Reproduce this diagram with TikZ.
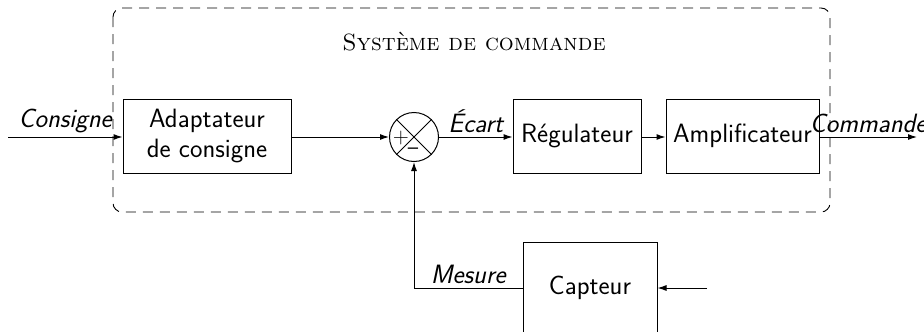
\documentclass[tikz,border=0pt]{standalone}
\usetikzlibrary{arrows.meta}
\begin{document}
\begin{tikzpicture}[x=1pt,y=-1pt,line width=1pt,
  blk/.style={draw,line width=1pt,font=\fontsize{26.5}{30}\selectfont\sffamily,align=center,inner sep=0pt},
  lbl/.style={font=\fontsize{26.5}{30}\selectfont\sffamily\itshape},
  sgn/.style={font=\fontsize{22}{26}\selectfont\sffamily,inner sep=0pt},
  arr/.style={-{Latex[length=9pt,width=6pt]}}]
\useasboundingbox (0,0) rectangle (924,332);
\draw[dash pattern=on 10pt off 7pt,rounded corners=9pt,line width=0.9pt] (113,8) rectangle (830,212);
\node[font=\fontsize{23.5}{28}\selectfont\rmfamily] (title) at (474,42) {\textsc{Système de commande}};
\node[blk,minimum width=168pt,minimum height=74pt] (adapt) at (207,136) {Adaptateur\\de consigne};
\node[draw,circle,minimum size=49pt,inner sep=0pt] (sum) at (414,137) {};
\draw (sum.45) -- (sum.225) (sum.135) -- (sum.315);
\node[sgn] (plus) at (401,138) {+};
\node[sgn] (minus) at (413,151) {--};
\node[blk,minimum width=128pt,minimum height=74pt] (reg) at (577,136) {Régulateur};
\node[blk,minimum width=153pt,minimum height=74pt] (amp) at (742.5,136) {Amplificateur};
\node[blk,minimum width=134pt,minimum height=92pt] (capt) at (590,288) {Capteur};
\coordinate (in) at (8,137);
\coordinate (out) at (917,137);
\coordinate (cin) at (707,288);
\draw[arr] (in) -- node[lbl,above]{Consigne} (in -| adapt.west);
\draw[arr] (adapt.east |- sum.west) -- (sum.west);
\draw[arr] (sum.east) -- node[lbl,above]{Écart} (sum.east -| reg.west);
\draw[arr] (reg.east |- sum.east) -- (amp.west |- sum.east);
\draw[arr] (amp.east |- sum.east) -- node[lbl,above]{Commande} (out);
\draw[arr] (capt.west) -- node[lbl,above]{Mesure} (sum |- capt.west) -- (sum.south);
\draw[arr] (cin) -- (capt.east);
\end{tikzpicture}
\end{document}
